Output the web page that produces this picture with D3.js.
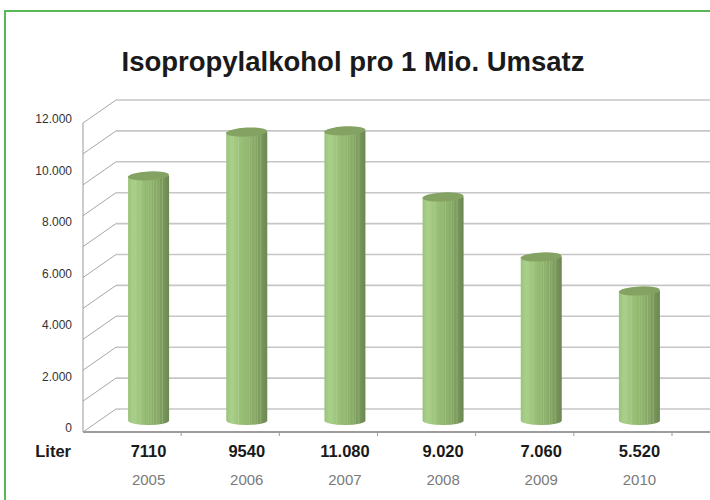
<!DOCTYPE html>
<html lang="de">
<head>
<meta charset="utf-8">
<title>Isopropylalkohol</title>
<script src="https://d3js.org/d3.v7.min.js"></script>
<style>
  body { margin: 0; background: #fff; }
  svg { display: block; font-family: "Liberation Sans", Arial, sans-serif; }
</style>
</head>
<body>
<svg width="710" height="500"></svg>
<script>
// data
var years = ["2005", "2006", "2007", "2008", "2009", "2010"];
var barValues = [9500, 11200, 11250, 8680, 6350, 5030];
var literLabels = ["7110", "9540", "11.080", "9.020", "7.060", "5.520"];
var yTicks = [0, 2000, 4000, 6000, 8000, 10000, 12000];
var gridValues = d3.range(0, 12001, 1200);

var svg = d3.select("svg");

// green frame (open to the right and bottom)
svg.append("path")
    .attr("d", "M5,500 V11 H710")
    .attr("fill", "none")
    .attr("stroke", "#56b856")
    .attr("stroke-width", 2);

svg.append("text")
    .attr("x", 353).attr("y", 71)
    .attr("text-anchor", "middle")
    .attr("font-size", 27.5)
    .attr("font-weight", "bold")
    .attr("fill", "#1a1a1a")
    .text("Isopropylalkohol pro 1 Mio. Umsatz");

var x0 = 83, x1 = 672;
var depth = {dx: 33, dy: -23};
var x = d3.scaleBand().domain(years).range([x0, x1]);
var y = d3.scaleLinear().domain([0, 12000]).range([432, 123]);

// back wall gridlines + diagonals
var grid = svg.append("g");
gridValues.forEach(function (v) {
    grid.append("line")
        .attr("x1", x0 + depth.dx).attr("x2", 710)
        .attr("y1", y(v) + depth.dy).attr("y2", y(v) + depth.dy)
        .attr("stroke", "#c6c6c6").attr("stroke-width", 1.6);
    grid.append("line")
        .attr("x1", x0).attr("y1", y(v))
        .attr("x2", x0 + depth.dx).attr("y2", y(v) + depth.dy)
        .attr("stroke", "#8f8f8f").attr("stroke-width", 0.8);
});

// left axis line
svg.append("line")
    .attr("x1", x0).attr("x2", x0)
    .attr("y1", y(12000)).attr("y2", y(0))
    .attr("stroke", "#9a9a9a").attr("stroke-width", 1);

// front floor line with ticks
svg.append("line")
    .attr("x1", x0).attr("x2", 710)
    .attr("y1", y(0)).attr("y2", y(0))
    .attr("stroke", "#9c9c9c").attr("stroke-width", 2);
svg.append("g").selectAll("line")
    .data(years.slice(1).concat(["end"]))
    .join("line")
    .attr("x1", function (d, i) { return x0 + (i + 1) * x.bandwidth(); })
    .attr("x2", function (d, i) { return x0 + (i + 1) * x.bandwidth(); })
    .attr("y1", y(0)).attr("y2", y(0) + 4)
    .attr("stroke", "#9c9c9c").attr("stroke-width", 1);

// y tick labels
var fmt = d3.formatLocale({decimal: ",", thousands: ".", grouping: [3], currency: ["", " €"]}).format(",");
svg.append("g").selectAll("text")
    .data(yTicks)
    .join("text")
    .attr("x", 72)
    .attr("y", function (d) { return y(d) - 0; })
    .attr("text-anchor", "end")
    .attr("font-size", 12)
    .attr("fill", "#333")
    .text(function (d) { return fmt(d); });

// cylinders
var defs = svg.append("defs");
var grad = defs.append("linearGradient").attr("id", "body");
[["0%", "#9cc27a"], ["12%", "#a9d08a"], ["40%", "#97bd74"], ["70%", "#86a866"], ["100%", "#6c8752"]]
    .forEach(function (s) { grad.append("stop").attr("offset", s[0]).attr("stop-color", s[1]); });

var barW = 41, rx = barW / 2, ry = 4.5;
var mid = {dx: depth.dx / 2, dy: depth.dy / 2};
function cx(d) { return x(d) + x.bandwidth() / 2 + mid.dx; }

var bars = svg.append("g").selectAll("g")
    .data(years.map(function (d, i) { return {year: d, value: barValues[i]}; }))
    .join("g");

bars.append("path")
    .attr("d", function (d) {
        var c = cx(d.year), top = y(d.value) + mid.dy, bot = y(0) + mid.dy;
        return "M" + (c - rx) + "," + top + "V" + bot +
            "A" + rx + "," + ry + " 0 0 0 " + (c + rx) + "," + bot +
            "V" + top + "Z";
    })
    .attr("fill", "url(#body)");

// vertical stripes on the cylinder body
var stripes = [0.18, 0.3, 0.5, 0.56, 0.62, 0.7, 0.76, 0.84];
bars.each(function (d) {
    var g = d3.select(this), c = cx(d.year);
    var top = y(d.value) + mid.dy, bot = y(0) + mid.dy;
    stripes.forEach(function (s, k) {
        var sx = c - rx + s * barW;
        g.append("line")
            .attr("x1", sx).attr("x2", sx)
            .attr("y1", top).attr("y2", bot + ry * 0.8)
            .attr("stroke", k % 2 ? "#c4e0a8" : "#b6d69a")
            .attr("stroke-opacity", 0.45)
            .attr("stroke-width", 0.7);
    });
});

bars.append("ellipse")
    .attr("cx", function (d) { return cx(d.year); })
    .attr("cy", function (d) { return y(d.value) + mid.dy; })
    .attr("rx", rx).attr("ry", ry)
    .attr("transform", function (d) {
        return "rotate(-3," + cx(d.year) + "," + (y(d.value) + mid.dy) + ")";
    })
    .attr("fill", "#84a363");

// label rows
svg.append("text")
    .attr("x", 71).attr("y", 457)
    .attr("text-anchor", "end")
    .attr("font-size", 16.5).attr("font-weight", "bold")
    .attr("fill", "#1a1a1a")
    .text("Liter");

svg.append("g").selectAll("text")
    .data(literLabels)
    .join("text")
    .attr("x", function (d, i) { return cx(years[i]); })
    .attr("y", 457)
    .attr("text-anchor", "middle")
    .attr("font-size", 16.5).attr("font-weight", "bold")
    .attr("fill", "#1a1a1a")
    .text(function (d) { return d; });

svg.append("g").selectAll("text")
    .data(years)
    .join("text")
    .attr("x", function (d) { return cx(d); })
    .attr("y", 485)
    .attr("text-anchor", "middle")
    .attr("font-size", 15)
    .attr("fill", "#7a7a7a")
    .text(function (d) { return d; });
</script>
</body>
</html>
